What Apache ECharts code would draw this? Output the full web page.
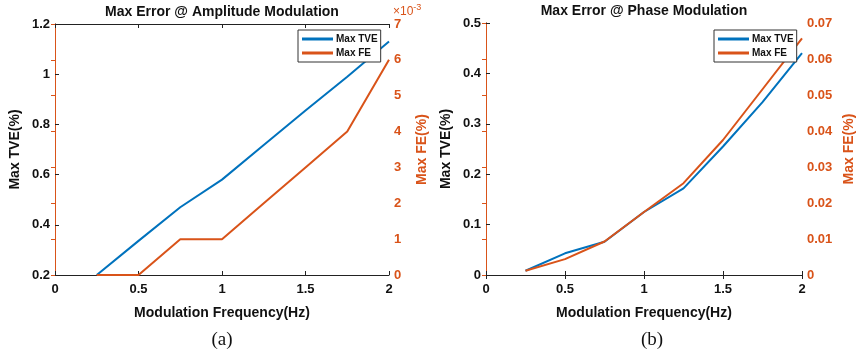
<!DOCTYPE html>
<html>
<head>
<meta charset="utf-8">
<script src="https://cdn.jsdelivr.net/npm/echarts@6/dist/echarts.min.js"></script>
<style>
  html, body { margin: 0; padding: 0; background: #fff; }
  #chart { width: 857px; height: 358px; }
</style>
</head>
<body>
<div id="chart"></div>
<script>
// modulation frequencies (Hz)
const freqs = [0.25, 0.5, 0.75, 1.0, 1.25, 1.5, 1.75, 2.0]

// (a) amplitude modulation
const ampTve = [0.2, 0.336, 0.47, 0.58, 0.718, 0.855, 0.99, 1.13]
const ampFe = [0, 0, 1, 1, 2, 3, 4, 6] // x10^-3

// (b) phase modulation
const phaseTve = [0.0085, 0.043, 0.066, 0.125, 0.172, 0.255, 0.343, 0.44]
const phaseFe = [0.0012, 0.0044, 0.0093, 0.0175, 0.0255, 0.0375, 0.0516, 0.0657]

const titles = ['Max Error @ Amplitude Modulation', 'Max Error @ Phase Modulation']
const captions = ['(a)', '(b)']
const xName = 'Modulation Frequency(Hz)'
const tveName = 'Max TVE(%)'
const feName = 'Max FE(%)'

const BLUE = '#0072BD'
const ORANGE = '#D95319'
const FONT = 'Liberation Sans'

const pairs = (ys) => freqs.map((x, i) => [x, ys[i]])

const tickLabel = (color) => ({
  color: color,
  fontFamily: FONT,
  fontWeight: 'bold',
  fontSize: 13
})

const nameStyle = (color) => ({
  color: color,
  fontFamily: FONT,
  fontWeight: 'bold',
  fontSize: 14
})

const grids = [
  { left: 55, top: 24, width: 334, height: 251 },
  { left: 486, top: 23, width: 316, height: 252 }
]

const xAxes = []
const yAxes = []
grids.forEach((g, i) => {
  xAxes.push({
    gridIndex: i,
    type: 'value',
    min: 0, max: 2, interval: 0.5,
    name: xName,
    nameLocation: 'middle',
    nameGap: 31,
    nameTextStyle: nameStyle('#111'),
    axisLine: { lineStyle: { color: '#222', width: 1 } },
    axisTick: { inside: true, length: 4, lineStyle: { color: '#222' } },
    axisLabel: Object.assign({ margin: 8 }, tickLabel('#111')),
    splitLine: { show: false }
  })
  xAxes.push({
    gridIndex: i,
    type: 'value',
    position: 'top',
    min: 0, max: 2, interval: 0.5,
    axisLine: { lineStyle: { color: '#222', width: 1 } },
    axisTick: { inside: true, length: 4, lineStyle: { color: '#222' } },
    axisLabel: { show: false },
    splitLine: { show: false }
  })
})

// left chart axes
yAxes.push({
  gridIndex: 0, type: 'value', position: 'left',
  min: 0.2, max: 1.2, interval: 0.2,
  name: tveName, nameLocation: 'middle', nameGap: 33,
  nameTextStyle: nameStyle('#111'),
  axisLine: { show: true, lineStyle: { color: '#222' } },
  axisTick: { show: true, inside: true, length: 4, lineStyle: { color: '#222' } },
  axisLabel: Object.assign({ margin: 5 }, tickLabel('#111')),
  splitLine: { show: false }
})
yAxes.push({
  gridIndex: 0, type: 'value', position: 'right',
  min: 0, max: 7, interval: 1,
  name: feName, nameLocation: 'middle', nameGap: 26, nameRotate: 90,
  nameTextStyle: nameStyle(ORANGE),
  axisLine: { show: true, lineStyle: { color: ORANGE } },
  axisTick: { show: true, inside: true, length: 4, lineStyle: { color: ORANGE } },
  axisLabel: Object.assign({ margin: 5 }, tickLabel(ORANGE)),
  splitLine: { show: false }
})
// right chart axes
yAxes.push({
  gridIndex: 1, type: 'value', position: 'left',
  min: 0, max: 0.5, interval: 0.1,
  name: tveName, nameLocation: 'middle', nameGap: 33,
  nameTextStyle: nameStyle('#111'),
  axisLine: { show: true, lineStyle: { color: '#222' } },
  axisTick: { show: true, inside: true, length: 4, lineStyle: { color: '#222' } },
  axisLabel: Object.assign({ margin: 5 }, tickLabel('#111')),
  splitLine: { show: false }
})
yAxes.push({
  gridIndex: 1, type: 'value', position: 'right',
  min: 0, max: 0.07, interval: 0.01,
  name: feName, nameLocation: 'middle', nameGap: 40, nameRotate: 90,
  nameTextStyle: nameStyle(ORANGE),
  axisLine: { show: true, lineStyle: { color: ORANGE } },
  axisTick: { show: true, inside: true, length: 4, lineStyle: { color: ORANGE } },
  axisLabel: Object.assign({
    margin: 5,
    formatter: v => v === 0 ? '0' : String(+v.toFixed(2))
  }, tickLabel(ORANGE)),
  splitLine: { show: false }
})

const line = (name, data, x, y, color) => ({
  name: name,
  type: 'line',
  xAxisIndex: x,
  yAxisIndex: y,
  data: pairs(data),
  symbol: 'none',
  lineStyle: { color: color, width: 2 },
  itemStyle: { color: color },
  z: 3
})

const legend = (left) => ({
  left: left, top: 30,
  orient: 'vertical',
  data: ['Max TVE', 'Max FE'],
  icon: 'rect',
  itemWidth: 31, itemHeight: 3, itemGap: 4,
  padding: [4, 3, 4, 4],
  borderColor: '#333', borderWidth: 1,
  backgroundColor: '#fff',
  textStyle: { fontFamily: FONT, fontWeight: 'bold', fontSize: 10, color: '#111', padding: [0, 0, 0, -2] },
  selectedMode: false
})

const chart = echarts.init(document.getElementById('chart'))
chart.setOption({
  animation: false,
  backgroundColor: '#fff',
  grid: grids,
  xAxis: xAxes,
  yAxis: yAxes,
  legend: [legend(298), legend(714)],
  series: [
    line('Max TVE', ampTve, 0, 0, BLUE),
    line('Max FE', ampFe, 0, 1, ORANGE),
    line('Max TVE', phaseTve, 2, 2, BLUE),
    line('Max FE', phaseFe, 2, 3, ORANGE)
  ],
  graphic: [
    { type: 'text', x: 222, y: 12, style: { text: titles[0], textAlign: 'center', textVerticalAlign: 'middle', font: 'bold 14px "Liberation Sans"', fill: '#111' } },
    { type: 'text', x: 644, y: 11, style: { text: titles[1], textAlign: 'center', textVerticalAlign: 'middle', font: 'bold 14px "Liberation Sans"', fill: '#111' } },
    { type: 'text', x: 222, y: 340, style: { text: captions[0], textAlign: 'center', textVerticalAlign: 'middle', font: '19px "Liberation Serif"', fill: '#111' } },
    { type: 'text', x: 652, y: 340, style: { text: captions[1], textAlign: 'center', textVerticalAlign: 'middle', font: '19px "Liberation Serif"', fill: '#111' } },
    {
      type: 'text', x: 393, y: 3,
      style: {
        text: '×10{sup|-3}',
        font: '12px "Liberation Sans"',
        fill: ORANGE,
        rich: { sup: { fontSize: 9, fontFamily: FONT, fill: ORANGE, padding: [0, 0, 8, 0] } }
      }
    }
  ]
})
</script>
</body>
</html>
